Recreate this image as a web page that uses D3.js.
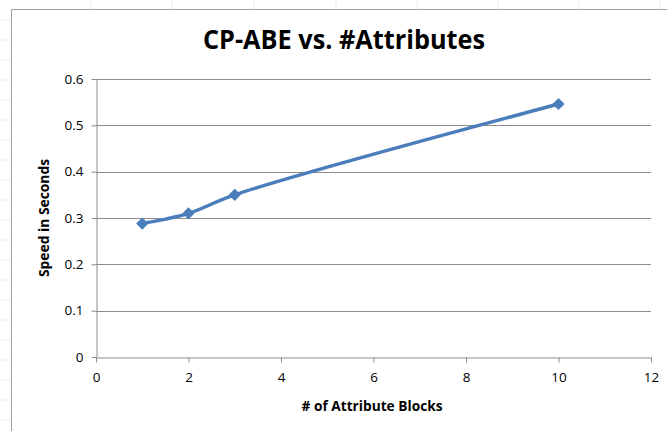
<!DOCTYPE html>
<html>
<head>
<meta charset="utf-8">
<script src="https://cdn.jsdelivr.net/npm/d3@7"></script>
<style>
  body { margin: 0; background: #fff; }
  text { font-family: "Open Sans", sans-serif; }
</style>
</head>
<body>
<div id="svgGraph"></div>
<script>
// chart data
var blocks = [1, 2, 3, 10];
var seconds = [0.288, 0.31, 0.35, 0.546];
var xTicks = [0, 2, 4, 6, 8, 10, 12];
var yTicks = [0, 0.1, 0.2, 0.3, 0.4, 0.5, 0.6];

var graphWidth = 667, graphHeight = 431;
var margin = {top: 79, left: 96, right: 16, bottom: 74};

var svg = d3.select("#svgGraph").append("svg")
    .attr("width", graphWidth)
    .attr("height", graphHeight);

// faint spreadsheet cells behind the chart
svg.append("g").selectAll("line")
    .data([91, 172, 254, 336, 417, 498, 579, 660])
    .enter().append("line")
    .attr("x1", d => d).attr("x2", d => d)
    .attr("y1", 0).attr("y2", 9)
    .attr("stroke", "#efefef");
svg.append("g").selectAll("line")
    .data([20, 40, 60, 80, 100, 120, 140, 160, 180, 200, 220, 240, 260, 280, 300, 320, 340, 360, 380, 400, 420])
    .enter().append("line")
    .attr("x1", 0).attr("x2", 11)
    .attr("y1", d => d).attr("y2", d => d)
    .attr("stroke", "#efefef");

// chart border
svg.append("path")
    .attr("d", "M11.5,431 V9.5 H667")
    .attr("fill", "none")
    .attr("stroke", "#a0a0a0");

var x = d3.scaleLinear().domain([0, 12]).range([margin.left, graphWidth - margin.right]);
var y = d3.scaleLinear().domain([0, 0.6]).range([graphHeight - margin.bottom, margin.top]);

// gridlines
svg.append("g").selectAll("line")
    .data(yTicks.slice(1))
    .enter().append("line")
    .attr("x1", x(0)).attr("x2", x(12))
    .attr("y1", d => Math.round(y(d)) + 0.5).attr("y2", d => Math.round(y(d)) + 0.5)
    .attr("stroke", "#8c8c8c");

var xAxis = svg.append("g")
    .attr("transform", "translate(0," + (Math.round(y(0)) + 0.5) + ")")
    .call(d3.axisBottom(x).tickValues(xTicks).tickFormat(d3.format("d")).tickSizeInner(5).tickSizeOuter(0).tickPadding(10));
var yAxis = svg.append("g")
    .attr("transform", "translate(" + (Math.round(x(0)) + 0.5) + ",0)")
    .call(d3.axisLeft(y).tickValues(yTicks).tickFormat(d => d === 0 ? "0" : d3.format(".1f")(d)).tickSizeInner(5).tickSizeOuter(0).tickPadding(8));

[xAxis, yAxis].forEach(function (a) {
    a.select(".domain").attr("stroke", "#8c8c8c");
    a.selectAll(".tick line").attr("stroke", "#8c8c8c");
    a.selectAll(".tick text")
        .attr("fill", "#000")
        .style("font-family", "'Open Sans', sans-serif")
        .style("font-size", "13.5px");
});

// series
var line = d3.line().curve(d3.curveCatmullRom.alpha(0.5))
    .x((d, i) => x(blocks[i]))
    .y(d => y(d));
svg.append("path")
    .datum(seconds)
    .attr("d", line)
    .attr("fill", "none")
    .attr("stroke", "#4a7ebb")
    .attr("stroke-width", 3.5)
    .attr("stroke-linejoin", "round");

svg.append("g").selectAll("path")
    .data(seconds)
    .enter().append("path")
    .attr("d", d3.symbol().type(d3.symbolDiamond2).size(95))
    .attr("transform", (d, i) => "translate(" + x(blocks[i]) + "," + y(d) + ")")
    .attr("fill", "#4a7ebb");

// titles
svg.append("text")
    .text("CP-ABE vs. #Attributes")
    .attr("x", 344).attr("y", 49)
    .attr("text-anchor", "middle")
    .attr("textLength", 282)
    .attr("lengthAdjust", "spacingAndGlyphs")
    .style("font-size", "27px")
    .style("font-weight", "bold");

svg.append("text")
    .text("# of Attribute Blocks")
    .attr("x", 372).attr("y", 411)
    .attr("text-anchor", "middle")
    .attr("textLength", 141)
    .attr("lengthAdjust", "spacingAndGlyphs")
    .style("font-size", "14px")
    .style("font-weight", "bold");

svg.append("text")
    .text("Speed in Seconds")
    .attr("transform", "translate(49,218) rotate(-90)")
    .attr("text-anchor", "middle")
    .attr("textLength", 118)
    .attr("lengthAdjust", "spacingAndGlyphs")
    .style("font-size", "14px")
    .style("font-weight", "bold");
</script>
</body>
</html>
